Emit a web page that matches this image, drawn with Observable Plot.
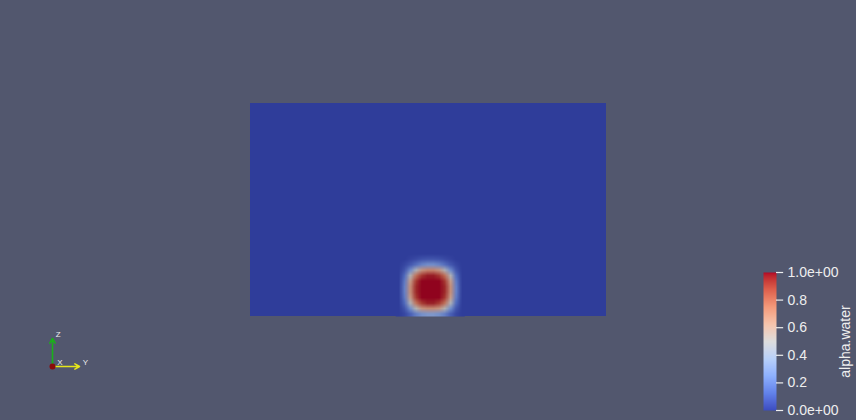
<!DOCTYPE html>
<html>
<head>
<meta charset="utf-8">
<script src="https://cdn.jsdelivr.net/npm/d3@7"></script>
<script src="https://cdn.jsdelivr.net/npm/@observablehq/plot@0.6"></script>
<style>
  html, body { margin: 0; padding: 0; background: #52576E; }
  #wrap { position: relative; width: 856px; height: 420px; background: #52576E; overflow: hidden; font-family: "Liberation Sans", Arial, sans-serif; }
  #wrap > div { position: absolute; }
  svg { background: transparent !important; }
</style>
</head>
<body>
<div id="wrap">
  <div id="main" style="left:0;top:0"></div>
  <div id="cbar" style="left:740px;top:250px"></div>
  <div id="triad" style="left:30px;top:325px"></div>
</div>
<script>
// ---- data ----
const domainX = [0, 1];
const domainY = [0, 0.6];
// alpha.water sampled on a 12x12 patch around the droplet (row 0 = top)
const patchX = [0.408, 0.602];
const patchY = [0, 0.185];
const patchCols = 12;
const patchRows = 12;
const alphaWater = [
  0,    0,    0,    0,    0,    0,    0,    0,    0,    0,    0,    0,
  0,    0,    0.02, 0.04, 0.06, 0.07, 0.07, 0.06, 0.04, 0.02, 0,    0,
  0,    0.03, 0.08, 0.15, 0.22, 0.26, 0.26, 0.22, 0.15, 0.08, 0.03, 0,
  0,    0.07, 0.24, 0.48, 0.66, 0.72, 0.72, 0.66, 0.48, 0.24, 0.07, 0,
  0,    0.13, 0.48, 0.78, 0.92, 0.97, 0.97, 0.92, 0.78, 0.48, 0.13, 0,
  0,    0.18, 0.63, 0.92, 1,    1,    1,    1,    0.92, 0.63, 0.18, 0,
  0,    0.2,  0.68, 0.95, 1,    1,    1,    1,    0.95, 0.68, 0.2,  0,
  0,    0.2,  0.68, 0.95, 1,    1,    1,    1,    0.95, 0.68, 0.2,  0,
  0,    0.18, 0.63, 0.92, 1,    1,    1,    1,    0.92, 0.63, 0.18, 0,
  0,    0.13, 0.48, 0.78, 0.92, 0.97, 0.97, 0.92, 0.78, 0.48, 0.13, 0,
  0,    0.07, 0.25, 0.5,  0.66, 0.7,  0.7,  0.66, 0.5,  0.25, 0.07, 0,
  0,    0.03, 0.1,  0.2,  0.27, 0.3,  0.3,  0.27, 0.2,  0.1,  0.03, 0
];
const cbTicks = [0, 0.2, 0.4, 0.6, 0.8, 1];
const cbLabels = ["0.0e+00", "0.2", "0.4", "0.6", "0.8", "1.0e+00"];
const cbTitle = "alpha.water";
const coolWarmStops = ["#3b4cc0", "#6282ea", "#8db0fe", "#b8d0f9", "#dddddd", "#f5c4ad", "#f49a7b", "#de604d", "#b40426"];
const triadNames = ["X", "Y", "Z"];
const triadDx = [0, 1, 0];
const triadDy = [0, 0, 1];
const triadColors = ["#8a0a0a", "#e6e61a", "#1ab01a"];

// ---- colour maps ----
const coolWarm = d3.piecewise(d3.interpolateLab, coolWarmStops);
const shade = 0.8;
const coolWarmLit = t => { const c = d3.rgb(coolWarm(t)); return d3.rgb(c.r * shade, c.g * shade, c.b * shade).toString(); };

// ---- main render view ----
const main = Plot.plot({
  width: 856, height: 420,
  marginTop: 0, marginRight: 0, marginBottom: 0, marginLeft: 0,
  style: {background: "transparent"},
  x: {domain: domainX, range: [250, 606], axis: null},
  y: {domain: domainY, range: [316, 103], axis: null},
  color: {type: "linear", domain: [0, 1], interpolate: coolWarmLit},
  marks: [
    Plot.rect([{v: 0}], {x1: domainX[0], x2: domainX[1], y1: domainY[0], y2: domainY[1], fill: d => d.v}),
    Plot.raster(alphaWater, {
      width: patchCols, height: patchRows,
      x1: patchX[0], x2: patchX[1], y1: patchY[1], y2: patchY[0],
      fill: d => d, imageRendering: "auto"
    })
  ]
});
document.getElementById("main").appendChild(main);

// ---- colour bar ----
const cbar = Plot.plot({
  width: 116, height: 170,
  marginTop: 0, marginRight: 0, marginBottom: 0, marginLeft: 0,
  style: {background: "transparent", fontFamily: "Liberation Sans, Arial, sans-serif"},
  x: {domain: [0, 1], range: [23, 36], axis: null},
  y: {domain: [0, 1], range: [160, 22], axis: null},
  color: {type: "linear", domain: [0, 1], interpolate: coolWarm},
  marks: [
    Plot.raster({fill: (x, y) => y, x1: 0, x2: 1, y1: 0, y2: 1, pixelSize: 1}),
    Plot.ruleY(cbTicks, {x1: 1, x2: 1.55, stroke: "#eeeeee", strokeWidth: 1.2}),
    Plot.text(cbTicks, {x: 1.85, y: d => d, text: (d, i) => cbLabels[i], textAnchor: "start", fill: "#eeeeee", fontSize: 14}),
    Plot.text([cbTitle], {x: 6.3, y: 0.5, text: d => d, rotate: -90, fill: "#eeeeee", fontSize: 14})
  ]
});
document.getElementById("cbar").appendChild(cbar);

// ---- orientation triad ----
const triadData = triadNames.map((n, i) => ({name: n, dx: triadDx[i], dy: triadDy[i], color: triadColors[i]}));
const triad = Plot.plot({
  width: 60, height: 50,
  marginTop: 0, marginRight: 0, marginBottom: 0, marginLeft: 0,
  style: {background: "transparent", fontFamily: "Liberation Sans, Arial, sans-serif"},
  x: {domain: [0, 1], range: [22, 49], axis: null},
  y: {domain: [0, 1], range: [41, 13], axis: null},
  marks: [
    Plot.arrow(triadData.filter(d => d.dx || d.dy), {x1: 0, y1: 0, x2: d => d.dx, y2: d => d.dy, stroke: d => d.color, strokeWidth: 1.6, headLength: 5}),
    Plot.dot(triadData.filter(d => !d.dx && !d.dy), {x: 0, y: 0, r: 3, fill: d => d.color}),
    Plot.text(triadData, {x: d => d.dx + (d.dx || d.dy ? 0.12 : 0.18), y: d => d.dy + 0.15, text: d => d.name, fill: "#eeeeee", fontSize: 8, textAnchor: "start"})
  ]
});
document.getElementById("triad").appendChild(triad);
</script>
</body>
</html>
